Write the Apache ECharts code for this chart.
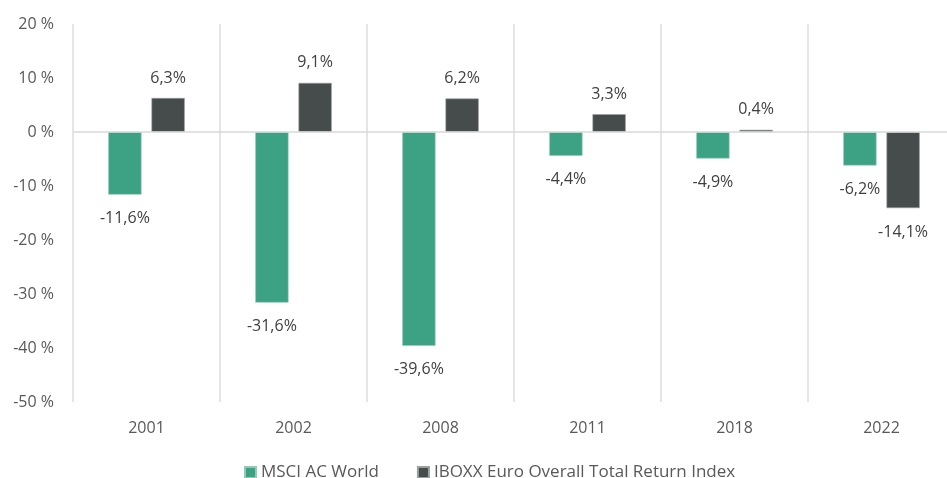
<!DOCTYPE html>
<html>
<head>
<meta charset="utf-8">
<script src="https://cdn.jsdelivr.net/npm/echarts@6/dist/echarts.min.js"></script>
<style>html,body{margin:0;padding:0;background:#fff;}#chart{width:947px;height:478px;}</style>
</head>
<body>
<div id="chart"></div>
<script>
const categories = ['2001', '2002', '2008', '2011', '2018', '2022'];
const msciValues = [-11.6, -31.6, -39.6, -4.4, -4.9, -6.2];
const iboxxValues = [6.3, 9.1, 6.2, 3.3, 0.4, -14.1];
const seriesNames = ['MSCI AC World', 'IBOXX Euro Overall Total Return Index'];
const yTicks = [-50, -40, -30, -20, -10, 0, 10, 20];

const FONT = '"Open Sans", sans-serif';
const fmt = v => (v.toFixed(1)).replace('.', ',') + '%';
function items(vals) {
  return vals.map(v => ({
    value: v,
    label: { position: v < 0 ? 'bottom' : 'top', distance: v < 0 ? 16 : 12 }
  }));
}

const chart = echarts.init(document.getElementById('chart'));
chart.setOption({
  animation: false,
  textStyle: { fontFamily: FONT },
  grid: { left: 73, width: 882, top: 24, bottom: 76, outerBoundsMode: 'none', containLabel: false },
  legend: {
    left: 239, top: 459,
    icon: 'rect', itemWidth: 11, itemHeight: 11, itemGap: 38, itemTextGap: 6,
    textStyle: { fontFamily: FONT, fontSize: 17, color: '#595959' },
    data: seriesNames
  },
  xAxis: {
    type: 'category',
    data: categories,
    axisLine: { show: false, onZero: false },
    axisTick: { show: false },
    axisLabel: { fontFamily: FONT, fontSize: 16, color: '#595959', margin: 18 },
    splitLine: { show: true, lineStyle: { color: '#dcdcdc', width: 1.5 } }
  },
  yAxis: {
    type: 'value',
    min: yTicks[0], max: yTicks[yTicks.length - 1], interval: 10,
    axisLine: { show: false },
    axisTick: { show: false },
    splitLine: { show: false },
    axisLabel: { fontFamily: FONT, fontSize: 16, color: '#595959', margin: 19,
      formatter: v => v + ' %' }
  },
  series: [
    {
      name: seriesNames[0], type: 'bar', data: items(msciValues),
      barGap: '30%', barCategoryGap: '48%',
      itemStyle: { color: '#3ca283', borderColor: '#8fcbb6', borderWidth: 0.6 },
      label: { show: true, fontFamily: FONT, fontSize: 16, color: '#404040',
        formatter: p => fmt(p.value) },
      markLine: {
        silent: true, symbol: 'none', label: { show: false },
        lineStyle: { color: '#d9d9d9', width: 1.5, type: 'solid' },
        data: [{ yAxis: 0 }]
      }
    },
    {
      name: seriesNames[1], type: 'bar', data: items(iboxxValues),
      itemStyle: { color: '#464c4b', borderColor: '#9aa09f', borderWidth: 0.6 },
      label: { show: true, fontFamily: FONT, fontSize: 16, color: '#404040',
        formatter: p => fmt(p.value) }
    }
  ]
});
</script>
</body>
</html>
